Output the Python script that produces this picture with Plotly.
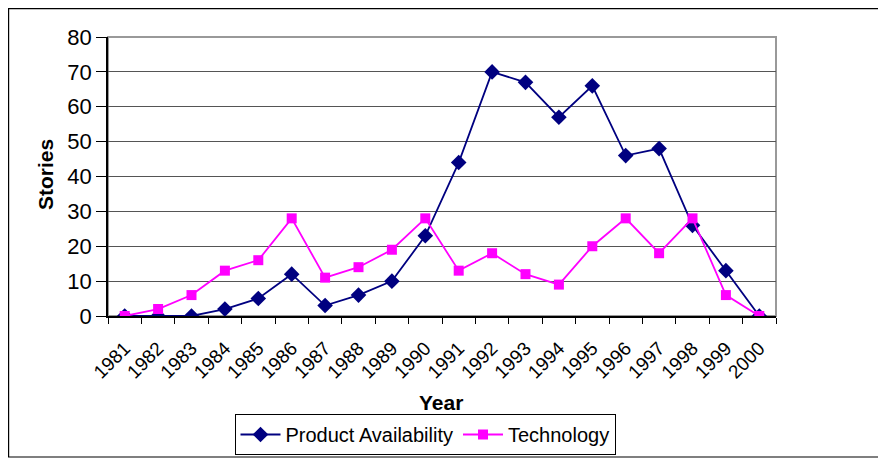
import plotly.graph_objects as go

years = [str(y) for y in range(1981, 2001)]
product_availability = [0, 0, 0, 2, 5, 12, 3, 6, 10, 23, 44, 70, 67, 57, 66, 46, 48, 26, 13, 0]
technology = [0, 2, 6, 13, 16, 28, 11, 14, 19, 28, 13, 18, 12, 9, 20, 28, 18, 28, 6, 0]

FONT = "Liberation Sans, Arial, sans-serif"

fig = go.Figure()
fig.add_trace(go.Scatter(
    x=years, y=product_availability, name="Product Availability",
    mode="lines+markers",
    line=dict(color="#000080", width=1.8),
    marker=dict(symbol="diamond", size=12, color="#000080"),
))
fig.add_trace(go.Scatter(
    x=years, y=technology, name="Technology",
    mode="lines+markers",
    line=dict(color="#FF00FF", width=1.8),
    marker=dict(symbol="square", size=10, color="#FF00FF"),
))

# page offset (body margin of the html page)
OFF = 8
W, H = 886 - OFF, 458 - OFF
# plot area in page coordinates: x 108..776, y 37..316
L = 108 - OFF
T = 37 - OFF
R = W - (776 - OFF)
B = H - (316 - OFF)
pw, ph = W - L - R, H - T - B

def px(x):
    return (x - OFF - L) / pw

def py(y):
    return (H - B - (y - OFF)) / ph

fig.update_layout(
    width=W, height=H,
    margin=dict(l=L, r=R, t=T, b=B, autoexpand=False),
    paper_bgcolor="white", plot_bgcolor="white",
    font=dict(family=FONT, color="black", size=18),
    showlegend=True,
    legend=dict(
        orientation="h", x=px(425), xanchor="center", y=py(414), yanchor="top",
        bordercolor="black", borderwidth=1, bgcolor="white",
        font=dict(size=20, family=FONT), itemwidth=40, tracegroupgap=0,
    ),
    xaxis=dict(
        type="category", range=[-0.5, 19.5], automargin=False,
        showgrid=False, showline=True, linecolor="black", linewidth=1.5,
        ticks="outside", tickson="boundaries", ticklen=6, tickcolor="black",
        tickangle=-45, tickfont=dict(size=19, family=FONT), ticklabelstandoff=12,
    ),
    yaxis=dict(
        range=[0, 80], dtick=10, showgrid=True, gridcolor="#555555", gridwidth=1,
        zeroline=False, showline=True, linecolor="black", linewidth=1.5, automargin=False,
        ticks="outside", ticklen=10, tickcolor="black",
        tickfont=dict(size=22, family=FONT),
    ),
    shapes=[
        dict(type="rect", xref="paper", yref="paper", x0=0, x1=1, y0=0, y1=1,
             line=dict(color="#999999", width=2), layer="below"),
        dict(type="rect", xref="paper", yref="paper",
             x0=px(OFF + 0.6), x1=px(900), y0=py(457), y1=py(OFF + 0.6),
             line=dict(color="black", width=1.2), layer="below"),
    ],
    annotations=[
        dict(text="<b>Year</b>", xref="paper", yref="paper", x=px(441), y=py(402),
             xanchor="center", yanchor="middle", showarrow=False,
             font=dict(size=21, family=FONT)),
        dict(text="<b>Stories</b>", xref="paper", yref="paper", x=px(45), y=py(175),
             xanchor="center", yanchor="middle", showarrow=False, textangle=-90,
             font=dict(size=21, family=FONT)),
    ],
)

fig.write_html("out.html")
